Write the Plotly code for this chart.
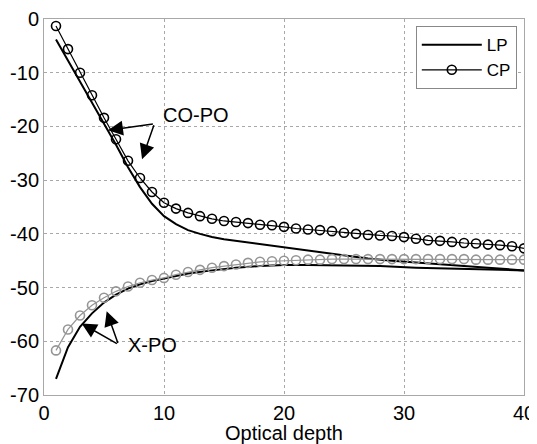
import plotly.graph_objects as go

# Optical depth sample points
depth_cp = list(range(1, 41))

# CP, co-polarized (black circles)
cp_co = [-1.3, -5.6, -10.0, -14.2, -18.4, -22.4, -26.4, -29.6, -32.2, -34.2,
         -35.3, -36.1, -36.7, -37.2, -37.6, -37.8, -38.0, -38.3, -38.4, -38.7,
         -39.0, -39.2, -39.3, -39.5, -39.8, -40.0, -40.2, -40.3, -40.4, -40.6,
         -40.9, -41.2, -41.3, -41.5, -41.7, -41.8, -42.0, -42.1, -42.3, -42.7]

# CP, cross-polarized (gray circles)
cp_x = [-61.7, -57.8, -55.2, -53.3, -51.9, -50.7, -49.8, -49.1, -48.6, -48.2,
        -47.6, -47.1, -46.7, -46.3, -46.0, -45.7, -45.4, -45.2, -45.1, -45.0,
        -44.9, -44.8, -44.8, -44.7, -44.7, -44.7, -44.7, -44.7, -44.7, -44.7,
        -44.7, -44.7, -44.7, -44.7, -44.7, -44.8, -44.8, -44.8, -44.8, -44.8]

# LP, co-polarized (solid black)
depth_lp_co = [1, 2, 3, 4, 5, 6, 7, 8, 9, 10, 11, 12, 13, 14, 15, 16, 17, 18,
               19, 20, 21, 24, 27, 29, 31, 34, 37, 40]
lp_co = [-3.8, -7.7, -11.6, -15.4, -19.3, -23.4, -27.6, -31.3, -34.4, -36.7,
         -38.2, -39.3, -40.0, -40.6, -41.0, -41.3, -41.6, -41.9, -42.2, -42.5,
         -42.9, -43.8, -44.6, -45.0, -45.3, -45.8, -46.3, -46.8]

# LP, cross-polarized (solid black)
depth_lp_x = [1, 2, 3, 4, 5, 6, 7, 8, 9, 10, 12, 14, 16, 18, 20, 22, 25, 28,
              31, 34, 37, 40]
lp_x = [-67.0, -61.1, -57.3, -54.8, -52.8, -51.3, -50.2, -49.4, -48.8, -48.3,
        -47.4, -46.8, -46.3, -46.0, -45.8, -45.8, -45.9, -46.0, -46.3, -46.5,
        -46.7, -46.8]

x_ticks = [0, 10, 20, 30, 40]
x_tick_labels = ["0", "10", "20", "30", "40"]
y_ticks = [0, -10, -20, -30, -40, -50, -60, -70]
y_tick_labels = ["0", "-10", "-20", "-30", "-40", "-50", "-60", "-70"]

FONT = "Arial, Liberation Sans, Helvetica, sans-serif"

fig = go.Figure()

fig.add_trace(go.Scatter(x=depth_lp_co, y=lp_co, mode="lines", name="LP",
                         line=dict(color="black", width=2)))
fig.add_trace(go.Scatter(x=depth_cp, y=cp_co, mode="lines+markers", name="CP",
                         line=dict(color="black", width=1.2),
                         marker=dict(symbol="circle-open", size=9,
                                     color="black", line=dict(width=1.6))))
fig.add_trace(go.Scatter(x=depth_lp_x, y=lp_x, mode="lines", showlegend=False,
                         line=dict(color="black", width=2)))
fig.add_trace(go.Scatter(x=depth_cp, y=cp_x, mode="lines+markers",
                         showlegend=False,
                         line=dict(color="#959595", width=1.2),
                         marker=dict(symbol="circle-open", size=9,
                                     color="#959595", line=dict(width=1.6))))

# Text labels
fig.add_annotation(x=12.7, y=-17.9, text="CO-PO", showarrow=False,
                   font=dict(size=20, color="black", family=FONT))
fig.add_annotation(x=9.05, y=-60.7, text="X-PO", showarrow=False,
                   font=dict(size=20, color="black", family=FONT))

# Arrows
arrows = [
    (5.33, -20.7, 9.2, -19.5),
    (8.17, -26.1, 9.2, -19.5),
    (3.14, -56.7, 6.2, -60.6),
    (5.22, -54.4, 6.2, -60.6),
]
for tx, ty, sx, sy in arrows:
    fig.add_annotation(x=tx, y=ty, ax=sx, ay=sy, xref="x", yref="y",
                       axref="x", ayref="y", text="", showarrow=True,
                       arrowhead=2, arrowsize=2.0, arrowwidth=1.5,
                       arrowcolor="black")

fig.update_xaxes(range=[0, 40], tickvals=x_ticks, ticktext=x_tick_labels,
                 ticks="", automargin=False, ticklabeloverflow="allow",
                 title=dict(text="Optical depth", standoff=2,
                            font=dict(size=20, family=FONT, color="black")),
                 tickfont=dict(size=20, family=FONT, color="black"),
                 showgrid=True, gridcolor="#a8a8a8", griddash="dot",
                 gridwidth=1, showline=True, linecolor="#a8a8a8",
                 linewidth=1, mirror=True, zeroline=False)
fig.update_yaxes(range=[-70, 0], tickvals=y_ticks, ticktext=y_tick_labels,
                 ticks="", automargin=False, ticklabeloverflow="allow",
                 tickfont=dict(size=20, family=FONT, color="black"),
                 showgrid=True, gridcolor="#a8a8a8", griddash="dot",
                 gridwidth=1, showline=True, linecolor="#a8a8a8",
                 linewidth=1, mirror=True, zeroline=False)

# page body adds an 8 px margin, so the figure is sized to fit inside it
fig.update_layout(
    width=529, height=436,
    margin=dict(l=36, r=13, t=11, b=49),
    paper_bgcolor="white", plot_bgcolor="white",
    font=dict(family=FONT, color="black"),
    showlegend=True,
    legend=dict(x=0.985, y=0.981, xanchor="right", yanchor="top",
                bgcolor="white", bordercolor="#888888", borderwidth=1,
                font=dict(size=17, family=FONT, color="black"),
                itemwidth=60, tracegroupgap=0),
)

fig.write_html("out.html")
